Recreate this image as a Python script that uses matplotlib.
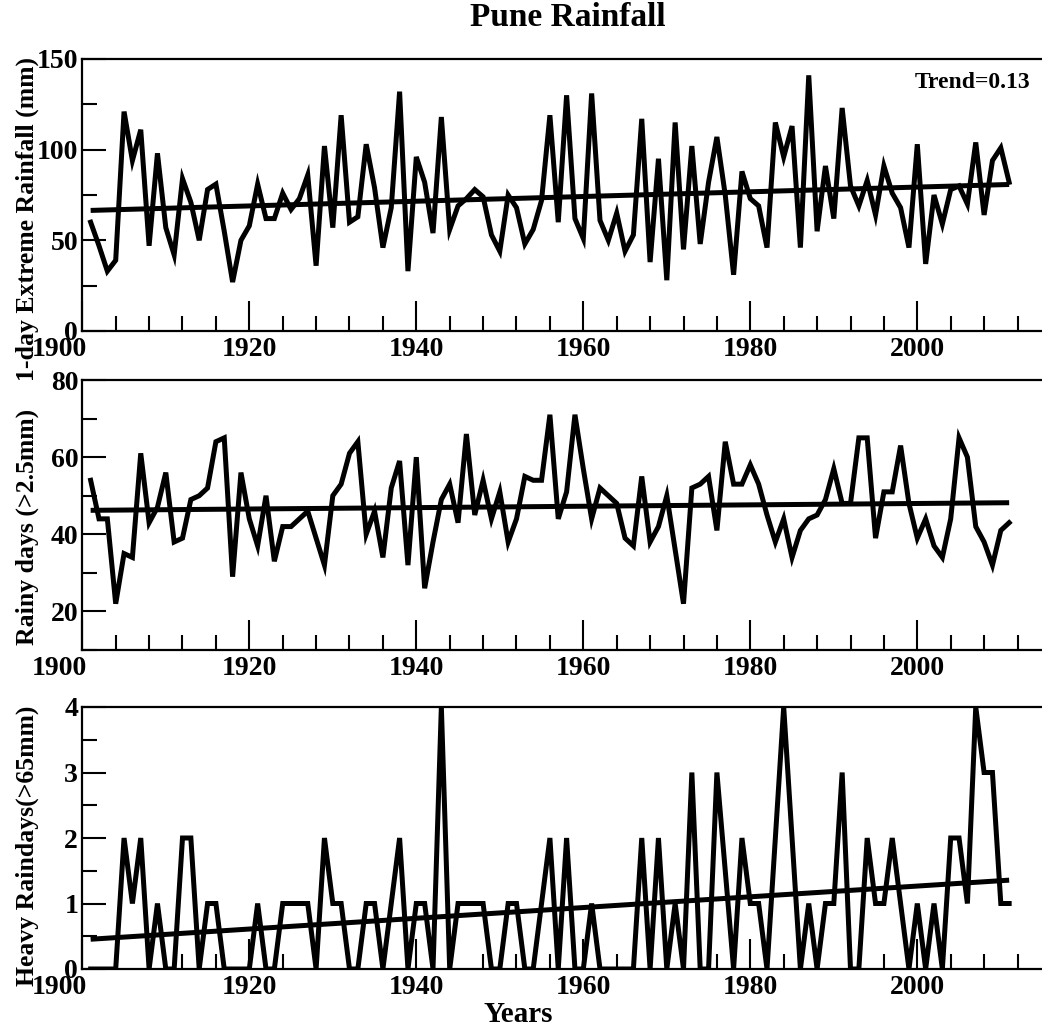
import numpy as np
import matplotlib.pyplot as plt
from matplotlib.ticker import MultipleLocator, FixedLocator
from matplotlib.transforms import ScaledTranslation

# annual series, 1901-2011
years = np.arange(1901, 2012)

extreme_rain = [
    60, 47, 33, 39, 121, 94, 111, 47, 98, 57,
    42, 84, 71, 50, 78, 81, 55, 27, 50, 58,
    81, 62, 62, 76, 67, 73, 86, 36, 102, 57,
    119, 60, 63, 103, 79, 46, 68, 132, 33, 96,
    82, 54, 118, 56, 69, 73, 78, 74, 53, 44,
    75, 68, 48, 56, 72, 119, 60, 130, 62, 51,
    131, 61, 50, 65, 44, 53, 117, 38, 95, 28,
    115, 45, 102, 48, 82, 107, 75, 31, 88, 73,
    69, 46, 115, 96, 113, 46, 141, 55, 91, 62,
    123, 80, 69, 83, 64, 91, 76, 68, 46, 103,
    37, 75, 59, 78, 80, 70, 104, 64, 94, 101,
    82,
]

rainy_days = [
    54, 44, 44, 22, 35, 34, 61, 43, 47, 56,
    38, 39, 49, 50, 52, 64, 65, 29, 56, 44,
    37, 50, 33, 42, 42, 44, 46, 39, 32, 50,
    53, 61, 64, 40, 46, 34, 52, 59, 32, 60,
    26, 38, 49, 53, 43, 66, 45, 54, 44, 51,
    38, 44, 55, 54, 54, 71, 44, 51, 71, 57,
    44, 52, 50, 48, 39, 37, 55, 38, 42, 50,
    36, 22, 52, 53, 55, 41, 64, 53, 53, 58,
    53, 45, 38, 44, 34, 41, 44, 45, 49, 57,
    48, 48, 65, 65, 39, 51, 51, 63, 48, 39,
    44, 37, 34, 44, 65, 60, 42, 38, 32, 41,
    43,
]

heavy_days = [
    0, 0, 0, 0, 2, 1, 2, 0, 1, 0,
    0, 2, 2, 0, 1, 1, 0, 0, 0, 0,
    1, 0, 0, 1, 1, 1, 1, 0, 2, 1,
    1, 0, 0, 1, 1, 0, 1, 2, 0, 1,
    1, 0, 4, 0, 1, 1, 1, 1, 0, 0,
    1, 1, 0, 0, 1, 2, 0, 2, 0, 0,
    1, 0, 0, 0, 0, 0, 2, 0, 2, 0,
    1, 0, 3, 0, 0, 3, 1.5, 0, 2, 1,
    1, 0, 2, 4, 2, 0, 1, 0, 1, 1,
    3, 0, 0, 2, 1, 1, 2, 1, 0, 1,
    0, 1, 0, 2, 2, 1, 4, 3, 3, 1,
    1,
]

year_ticks = [1900, 1920, 1940, 1960, 1980, 2000]
extreme_trend = 0.13

plt.rcParams['font.family'] = 'Liberation Serif'
plt.rcParams['font.weight'] = 'bold'

fig = plt.figure(figsize=(10.42, 10.30), dpi=100)

W, H = 1042.0, 1030.0
x0 = 82.3
xw = 1002.0   # 1900..2020, runs past the right edge of the canvas

panels = [
    # values, ylim, major, minor, label, (top px, bottom px), label y
    (extreme_rain, (0, 150), 50, 25, '1-day Extreme Rainfall (mm)', (59, 331), 0.41),
    (rainy_days, (10, 80), 20, 10, 'Rainy days (>2.5mm)', (380, 650), 0.455),
    (heavy_days, (0, 4), 1, 0.5, 'Heavy Raindays(>65mm)', (707, 969), 0.47),
]

axes = []
for i, (vals, ylim, major, minor, label, (top, bot), ly) in enumerate(panels):
    ax = fig.add_axes([x0 / W, 1 - bot / H, xw / W, (bot - top) / H])
    vals = np.asarray(vals, dtype=float)

    ax.plot(years, vals, color='black', lw=3.6, solid_joinstyle='miter')

    if i == 0:
        slope = extreme_trend
        icpt = vals.mean() - slope * years.mean()
    else:
        slope, icpt = np.polyfit(years, vals, 1)
    ax.plot(years, icpt + slope * years, color='black', lw=3.6,
            solid_capstyle='butt')

    ax.set_xlim(1900, 2020)
    ax.set_ylim(*ylim)
    ax.xaxis.set_major_locator(FixedLocator(year_ticks))
    ax.xaxis.set_minor_locator(MultipleLocator(4))
    ax.yaxis.set_major_locator(MultipleLocator(major))
    ax.yaxis.set_minor_locator(MultipleLocator(minor))
    ax.tick_params(axis='both', which='both', direction='in', width=1.5,
                   labelsize=20, top=False, right=False)
    ax.tick_params(axis='x', which='major', length=21.6, pad=4)
    ax.tick_params(axis='y', which='major', length=17.3, pad=3)
    ax.tick_params(axis='both', which='minor', length=10.8)

    if i == 1:
        ax.set_yticks([20, 40, 60, 80])

    for sp in ax.spines.values():
        sp.set_linewidth(1.6)

    ax.set_ylabel(label, fontsize=18.5, fontweight='bold')
    ax.yaxis.set_label_coords(-0.043, ly)

    # first year label sits left of its tick, clear of the y-axis "0"
    fig.canvas.draw()
    first = ax.get_xticklabels()[0]
    first.set_horizontalalignment('right')
    first.set_transform(first.get_transform() +
                        ScaledTranslation(5 / 100, 0, fig.dpi_scale_trans))
    axes.append(ax)

axes[0].text(0.946, 0.915, 'Trend=0.13', transform=axes[0].transAxes,
             ha='right', va='center', fontsize=17, fontweight='bold')

fig.text(568 / W, 1 - 18 / H, 'Pune Rainfall', ha='center', va='center',
         fontsize=24, fontweight='bold')
fig.text(518 / W, 1 - 1015 / H, 'Years', ha='center', va='center',
         fontsize=21, fontweight='bold')

fig.savefig('out.png', dpi=100)
